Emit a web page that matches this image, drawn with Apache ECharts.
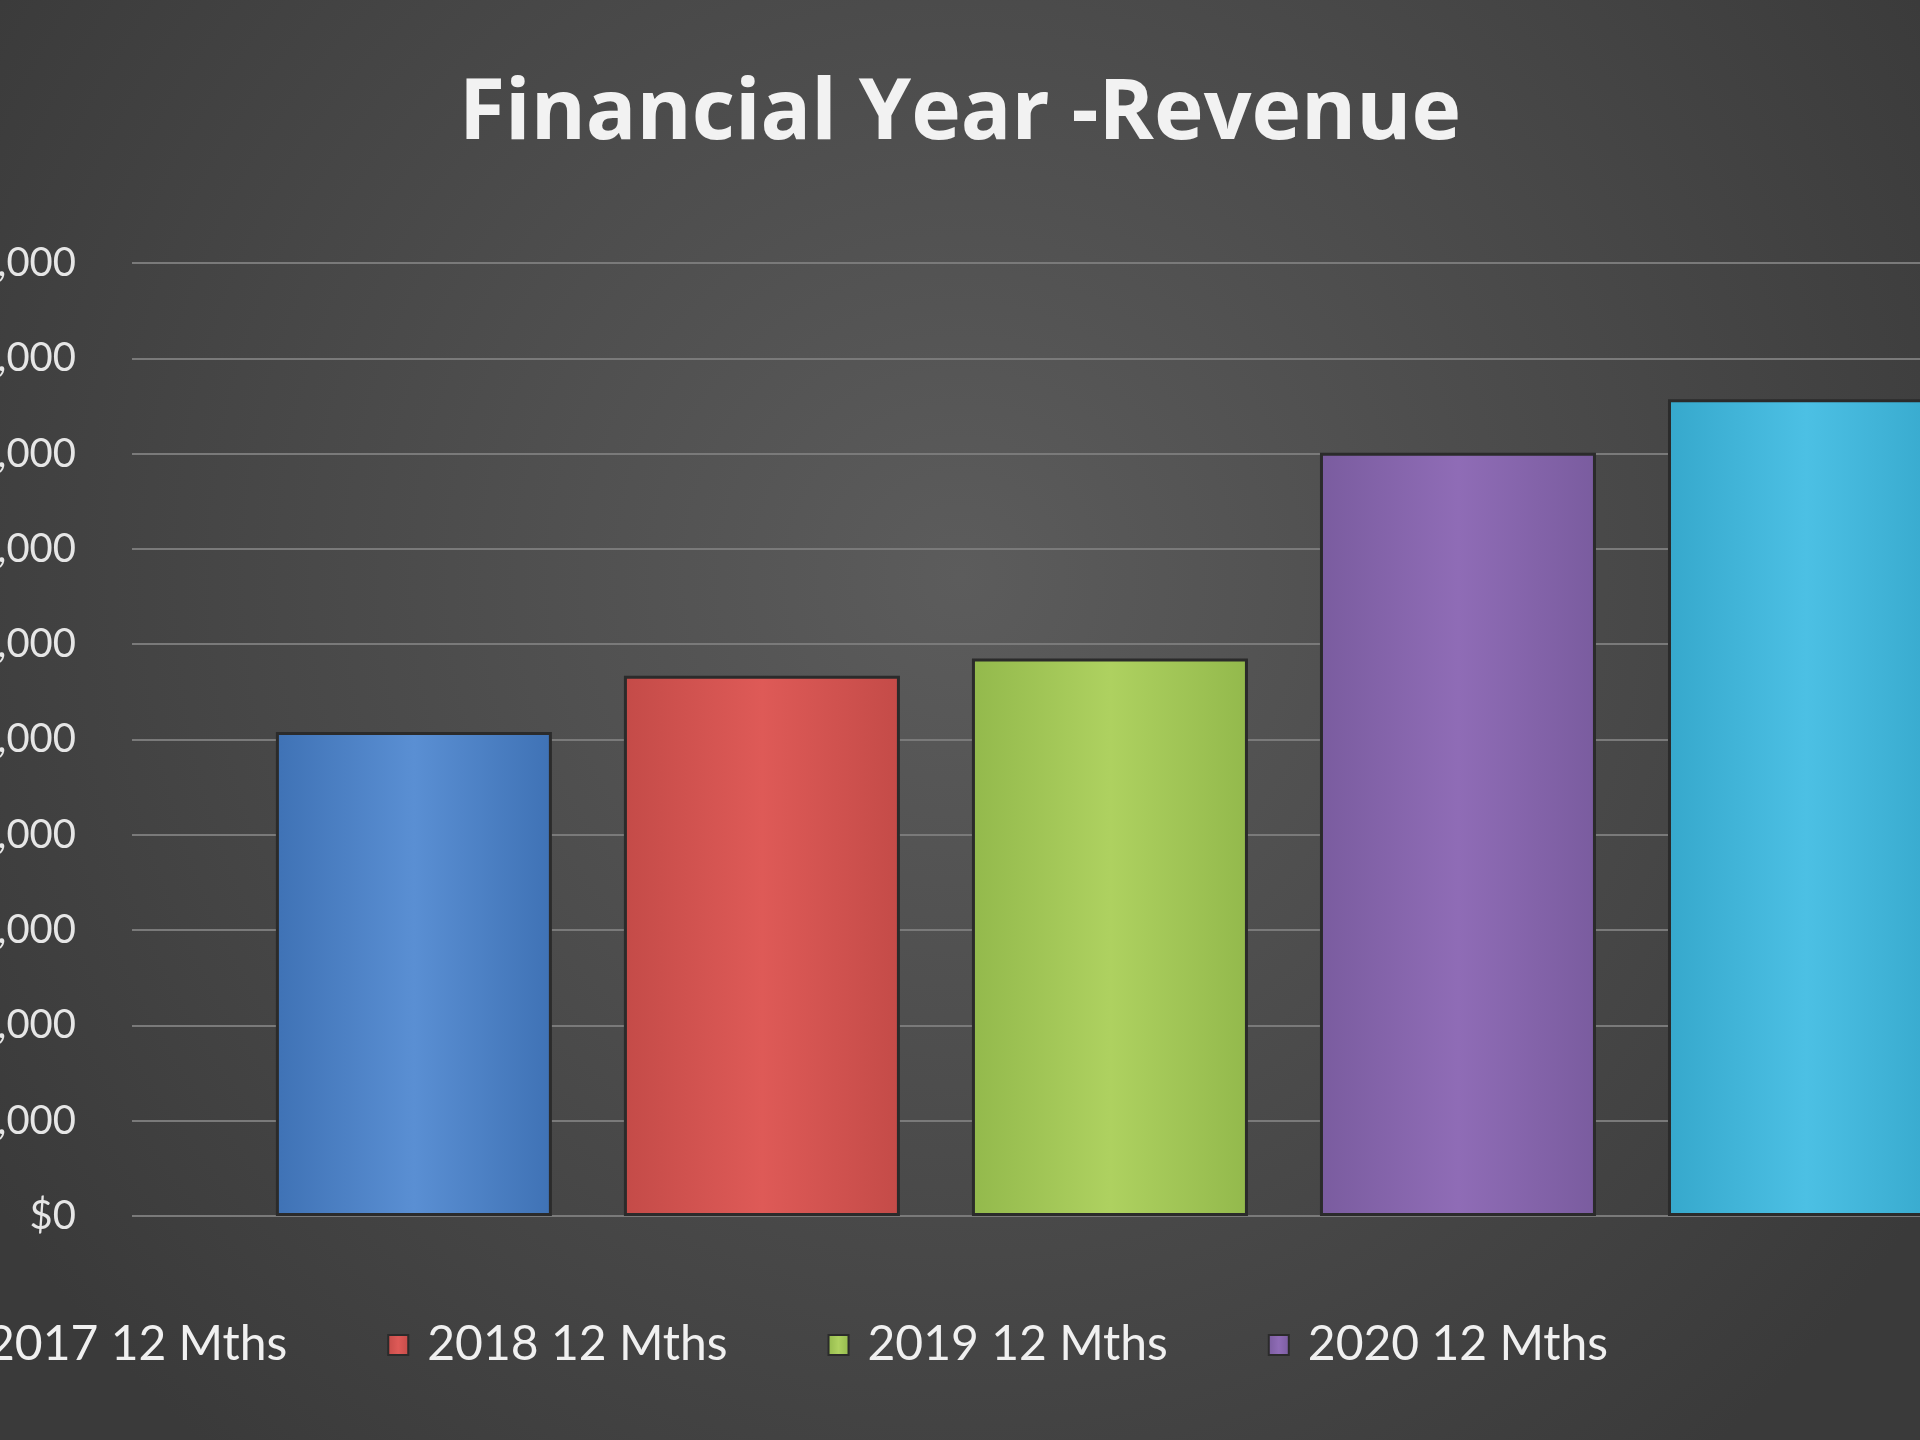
<!DOCTYPE html>
<html><head><meta charset="utf-8">
<script src="https://cdn.jsdelivr.net/npm/echarts@6/dist/echarts.min.js"></script>
<style>html,body{margin:0;padding:0;}#c{width:1920px;height:1440px;}</style>
</head><body><div id="c"></div>
<script>
const categories = ['2017 12 Mths','2018 12 Mths','2019 12 Mths','2020 12 Mths','2021 12 Mths'];
const revenue = [50800, 56700, 58500, 80100, 85700];
const colors = [['#3f72b5','#5a8fd3'],['#c44b48','#de5a57'],['#93b94c','#aed160'],['#7a5c9f','#8f6cb6'],['#36a8cc','#4cc0e4']];
const chart = echarts.init(document.getElementById('c'));
const series = categories.map((name,i)=>({
  name, type:'bar', stack:'all', barWidth:276,
  data:[[i, revenue[i]]],
  itemStyle:{borderColor:'#2b2b2b',borderWidth:3,
    color:new echarts.graphic.LinearGradient(0,0,1,0,[
      {offset:0,color:colors[i][0]},{offset:0.5,color:colors[i][1]},{offset:1,color:colors[i][0]}])}
}));
chart.setOption({
  backgroundColor:new echarts.graphic.RadialGradient(0.5,0.4,0.8,[{offset:0,color:'#5c5c5c'},{offset:1,color:'#3a3a3a'}]),
  color:colors.map(c=>c[1]),
  title:{text:'Financial Year -Revenue',left:'center',top:68,
    textStyle:{color:'#f2f2f2',fontSize:84,fontWeight:'bold',fontFamily:'Open Sans',letterSpacing:9}},
  grid:{left:132,right:-60,top:263,bottom:224,containLabel:false,outerBoundsMode:'none'},
  xAxis:{type:'value',min:-0.81,max:4.5,show:false},
  yAxis:{type:'value',min:0,max:100000,interval:10000,
    axisLine:{show:false},axisTick:{show:false},
    axisLabel:{color:'#e6e6e6',fontSize:40,margin:56,fontFamily:'Lato',letterSpacing:4,
      formatter:v=>'$'+v.toLocaleString('en-US')},
    splitLine:{lineStyle:{color:'#7a7a7a',width:2}}},
  legend:{data:categories,left:-58,top:1316,itemWidth:20,itemHeight:20,itemGap:100,icon:'rect',
    textStyle:{color:'#f0f0f0',fontSize:48,fontFamily:'Lato',padding:[0,0,0,14]}},
  series
});
</script></body></html>
